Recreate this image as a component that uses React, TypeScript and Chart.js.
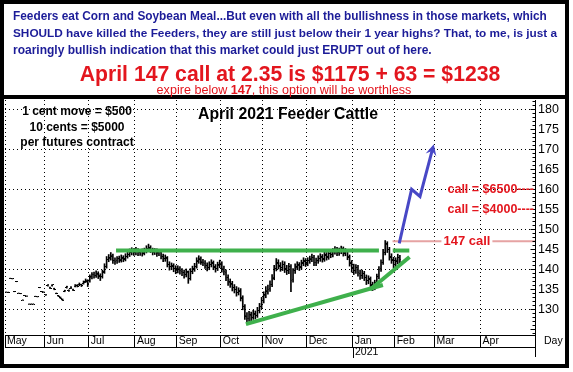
import React, { useEffect, useRef } from 'react';
import { Chart, registerables } from 'chart.js';

Chart.register(...registerables);

const FONT = "'Liberation Sans', Arial, Helvetica, sans-serif";

const headerLines = [
  'Feeders eat Corn and Soybean Meal...But even with all the bullishness in those markets, which',
  'SHOULD have killed the Feeders, they are still just below their 1 year highs? That, to me, is just a',
  'roaringly bullish indication that this market could just ERUPT out of here.',
];
const headline = 'April 147 call at 2.35 is $1175 + 63 = $1238';
const subParts = ['expire below ', '147', ', this option will be worthless'];
const chartTitle = 'April 2021 Feeder Cattle';
const noteLines = ['1 cent move = $500', '10 cents = $5000', 'per futures contract'];

// x axis: trading-day index; month boundaries
const monthStarts = [-0.5, 18.5, 39.5, 61.5, 81.5, 102.5, 122.5, 143.5, 165.5, 185.5, 204.5, 226.5];
const monthLabels = ['May', 'Jun', 'Jul', 'Aug', 'Sep', 'Oct', 'Nov', 'Dec', 'Jan', 'Feb', 'Mar', 'Apr'];
const yearMark = { x: 165.5, label: '2021' };
const axisEndLabel = 'Day';

const opens = [
  // May
  134.3, 134.2, 137.7, 137.6, 134.4, 136.9, 134.0, 133.9, 132.3, 133.4, 133.3, 131.3, 131.3, 131.3, 133.2, 133.1, 135.4, 134.4, 134.3,
  // Jun
  133.6, 135.9, 135.5, 135.9, 135.2, 134.0, 133.4, 133.0, 132.5, 134.5, 135.4, 134.8, 135.3, 135.0, 135.7, 136.0, 136.1, 136.1, 136.5, 136.9, 137.0,
  // Jul
  137.3, 138.1, 138.7, 138.5, 138.8, 138.4, 138.2, 139.4, 140.8, 142.5, 142.9, 143.3, 142.3, 142.1, 142.7, 142.4, 142.8, 142.6, 143.3, 143.7, 144.2, 144.5,
  // Aug
  144.3, 144.6, 144.2, 144.5, 144.1, 144.7, 145.1, 145.3, 144.7, 144.4, 144.5, 144.1, 144.2, 143.2, 142.7, 142.8, 141.2, 140.7, 140.8, 140.1,
  // Sep
  139.9, 140.0, 139.5, 139.2, 138.8, 139.2, 137.7, 139.4, 140.1, 140.7, 142.0, 142.5, 141.8, 141.5, 140.9, 140.5, 141.3, 141.5, 140.5, 140.3, 141.1,
  // Oct
  141.2, 140.0, 139.3, 137.9, 136.8, 136.3, 135.4, 134.9, 134.3, 134.5, 132.7, 130.6, 128.3, 127.7, 128.5, 128.0, 128.8, 128.5, 129.7, 130.8,
  // Nov
  132.2, 133.6, 134.5, 135.1, 136.3, 138.0, 140.3, 141.5, 140.8, 140.5, 141.1, 140.1, 139.7, 140.6, 137.4, 139.7, 140.5, 141.0, 140.6, 141.5, 142.0,
  // Dec
  141.6, 142.2, 142.5, 142.9, 141.7, 142.2, 142.7, 143.0, 142.6, 143.5, 143.1, 143.9, 143.7, 144.4, 144.9, 144.2, 144.5, 145.0, 144.1, 144.4, 143.0, 141.5,
  // Jan
  140.4, 139.7, 140.4, 139.0, 138.5, 138.9, 137.9, 137.2, 137.5, 136.0, 135.5, 136.7, 138.2, 140.1, 141.7, 144.2, 146.3, 144.9, 143.1, 142.3,
  // Feb
  141.3, 142.0, 142.9,
];
const highs = [
  134.4, 134.3, 137.8, 137.7, 134.5, 137.0, 134.1, 134.0, 132.4, 133.5, 133.4, 131.4, 131.4, 131.4, 133.3, 133.2, 135.5, 134.5, 134.4,
  133.7, 136.2, 135.6, 136.2, 135.3, 134.1, 133.5, 133.1, 132.6, 134.8, 135.8, 134.9, 135.7, 135.1, 136.2, 136.2, 136.6, 136.3, 137.1, 137.6, 137.4,
  138.6, 139.2, 139.3, 139.6, 139.4, 138.9, 139.8, 141.4, 143.2, 143.7, 144.2, 143.8, 142.9, 143.2, 143.3, 143.6, 143.4, 143.9, 144.4, 145.1, 145.4, 145.2,
  145.5, 145.2, 145.0, 145.1, 145.3, 145.9, 146.3, 145.9, 145.3, 145.2, 145.1, 145.0, 144.7, 143.8, 143.6, 143.2, 141.9, 141.6, 141.4, 140.9,
  140.9, 140.7, 140.2, 139.8, 140.1, 139.6, 140.2, 140.8, 141.5, 142.9, 143.4, 143.1, 142.5, 142.2, 141.6, 141.9, 142.4, 142.1, 141.2, 141.8, 142.3,
  141.9, 140.8, 139.9, 138.6, 137.6, 137.0, 136.2, 135.7, 135.4, 135.2, 133.4, 131.2, 129.2, 129.5, 129.3, 129.8, 129.6, 130.5, 131.5, 133.0,
  134.4, 135.7, 136.1, 137.1, 138.7, 141.0, 142.7, 142.4, 141.7, 142.1, 141.9, 141.0, 141.5, 141.2, 140.2, 141.4, 141.9, 141.7, 142.3, 142.9, 142.7,
  142.9, 143.3, 143.8, 143.5, 142.8, 143.4, 143.9, 143.7, 144.3, 144.2, 144.8, 144.6, 145.2, 145.7, 145.5, 145.3, 145.8, 145.6, 145.2, 145.0, 143.6, 142.2,
  141.3, 141.2, 141.0, 139.8, 139.8, 139.5, 138.6, 138.4, 138.1, 136.8, 137.3, 138.8, 140.7, 142.4, 145.0, 147.2, 146.9, 145.5, 143.9, 143.0,
  142.9, 143.8, 143.5,
];
const lows = [
  134.3, 134.2, 137.7, 137.6, 134.4, 136.9, 134.0, 133.9, 132.3, 133.4, 133.3, 131.3, 131.3, 131.3, 133.2, 133.1, 135.4, 134.4, 134.3,
  133.5, 135.8, 135.2, 135.8, 134.9, 133.9, 133.2, 132.7, 132.2, 134.4, 135.3, 134.5, 135.2, 134.7, 135.6, 135.6, 135.9, 135.7, 136.3, 136.7, 135.7,
  136.8, 137.6, 137.8, 138.0, 137.7, 137.2, 137.8, 139.0, 140.3, 141.9, 142.3, 141.5, 141.2, 141.5, 141.7, 141.8, 141.9, 142.1, 142.8, 143.2, 143.6, 143.5,
  143.6, 143.4, 143.5, 143.3, 143.6, 144.1, 144.5, 144.2, 143.6, 143.7, 143.2, 143.4, 142.6, 141.9, 142.0, 140.6, 139.8, 139.9, 139.4, 138.9,
  139.1, 138.8, 138.4, 137.8, 138.1, 136.5, 137.3, 138.9, 139.5, 140.3, 141.5, 141.2, 140.9, 140.2, 139.6, 139.9, 140.6, 139.9, 139.3, 139.7, 140.4,
  139.3, 138.6, 137.2, 136.0, 135.5, 134.6, 134.1, 133.3, 133.6, 132.1, 129.9, 127.5, 126.4, 127.0, 127.1, 127.5, 127.6, 128.0, 129.1, 130.2,
  131.6, 132.9, 133.8, 134.5, 135.7, 137.4, 139.6, 140.1, 139.5, 139.7, 139.2, 138.7, 138.9, 134.4, 136.8, 139.0, 139.9, 139.7, 140.0, 140.9, 140.7,
  140.9, 141.5, 141.9, 140.9, 140.9, 141.5, 142.0, 141.8, 142.0, 142.3, 142.5, 142.9, 143.1, 143.8, 143.4, 143.5, 143.9, 143.3, 143.4, 142.4, 140.8, 139.3,
  138.7, 139.0, 138.3, 137.5, 137.7, 137.2, 136.2, 136.4, 135.3, 134.7, 134.9, 136.1, 137.6, 139.5, 141.2, 143.6, 144.2, 142.3, 141.5, 140.4,
  140.6, 141.4, 141.6,
];
const closes = [
  134.3, 134.2, 137.7, 137.6, 134.4, 136.9, 134.0, 133.9, 132.3, 133.4, 133.3, 131.3, 131.3, 131.3, 133.2, 133.1, 135.4, 134.4, 134.3,
  133.6, 136.1, 135.3, 136.1, 135.0, 134.0, 133.3, 132.8, 132.3, 134.7, 135.6, 134.6, 135.5, 134.8, 136.0, 135.8, 136.3, 135.9, 136.8, 137.2, 136.4,
  138.0, 138.6, 138.4, 138.9, 138.3, 138.1, 139.2, 140.6, 142.4, 142.8, 143.5, 142.2, 142.0, 142.6, 142.3, 142.9, 142.5, 143.2, 143.6, 144.3, 144.6, 144.2,
  144.7, 144.1, 144.4, 144.0, 144.6, 145.2, 145.4, 144.8, 144.3, 144.6, 144.0, 144.4, 143.3, 142.6, 142.9, 141.3, 140.6, 140.9, 140.2, 139.8,
  140.1, 139.6, 139.3, 138.7, 139.4, 137.6, 139.5, 140.0, 140.6, 142.1, 142.6, 141.9, 141.6, 141.0, 140.4, 141.2, 141.6, 140.6, 140.2, 141.0, 141.4,
  140.1, 139.4, 138.0, 136.9, 136.4, 135.5, 135.0, 134.2, 134.6, 132.9, 130.8, 128.4, 127.6, 128.6, 127.9, 128.9, 128.4, 129.6, 130.7, 132.1,
  133.5, 134.6, 135.0, 136.2, 137.8, 140.2, 141.6, 140.9, 140.4, 141.2, 140.0, 139.6, 140.7, 137.2, 139.6, 140.6, 141.1, 140.5, 141.6, 142.1, 141.5,
  142.1, 142.6, 143.0, 141.6, 142.1, 142.6, 143.1, 142.5, 143.6, 143.0, 144.0, 143.6, 144.5, 145.0, 144.1, 144.6, 145.1, 144.0, 144.5, 143.1, 141.6, 140.2,
  139.6, 140.5, 139.1, 138.4, 139.0, 138.0, 137.1, 137.6, 136.1, 135.4, 136.6, 138.1, 140.0, 141.6, 144.1, 146.4, 145.0, 143.0, 142.4, 141.2,
  142.1, 143.0, 142.4,
];

// hand-drawn annotation lines (x = trading-day index, y = price)
const resistanceA = [{ x: 52.5, y: 144.7 }, { x: 178, y: 144.7 }];
const resistanceB = [{ x: 184.6, y: 144.7 }, { x: 192.5, y: 144.7 }];
const supportLine = [{ x: 114.5, y: 126.3 }, { x: 179.9, y: 136.1 }];
const steepLine = [{ x: 173.7, y: 134.9 }, { x: 192.6, y: 143.1 }];
const projection = [{ x: 187.7, y: 146.5 }, { x: 193.6, y: 160.0 }, { x: 197.6, y: 158.2 }, { x: 203.7, y: 170.3 }];
const strikeLine = [{ x: 184.5, y: 147 }, { x: 252.5, y: 147 }];
const strikeLabel = { x: 220, y: 147, text: '147 call' };
const callLevels = [{ y: 160, text: 'call = $6500----' }, { y: 155, text: 'call = $4000----' }];

const Y_MIN = 123.6;
const Y_MAX = 182.3;
const X_MIN = -0.5;
const X_MAX = 252.5;

const GREEN = '#3fb04c';
const BLUE = '#4848c6';
const RED = '#e3161e';
const NAVY = '#1c1c98';
const PINK = '#e6a3a3';

const annotate = {
  id: 'annotate',
  beforeDraw(chart: any) {
    const ctx = chart.ctx;
    ctx.save();
    ctx.fillStyle = '#fff';
    ctx.fillRect(0, 0, chart.width, chart.height);
    ctx.restore();
  },
  afterDraw(chart: any) {
    const { ctx, chartArea: ca } = chart;
    const xs = chart.scales.x;
    const ys = chart.scales.y;
    ctx.save();

    // frame + header divider
    ctx.strokeStyle = '#000';
    ctx.lineWidth = 4;
    ctx.strokeRect(2, 2, 565, 364);
    ctx.fillStyle = '#000';
    ctx.fillRect(2, 95, 565, 4);

    // header text
    ctx.textBaseline = 'middle';
    ctx.textAlign = 'left';
    ctx.fillStyle = NAVY;
    const hy = [17, 34, 51];
    const hs = [11.85, 11.8, 12];
    headerLines.forEach((t, i) => {
      ctx.font = `bold ${hs[i]}px ${FONT}`;
      ctx.fillText(t, 13, hy[i]);
    });

    ctx.fillStyle = RED;
    ctx.textAlign = 'center';
    ctx.font = `bold 21.2px ${FONT}`;
    ctx.fillText(headline, 290, 75);

    const fonts = [`12.6px ${FONT}`, `bold 12.6px ${FONT}`, `12.6px ${FONT}`];
    let total = 0;
    const widths = subParts.map((p, i) => { ctx.font = fonts[i]; const w = ctx.measureText(p).width; total += w; return w; });
    let sx = 284 - total / 2;
    ctx.textAlign = 'left';
    subParts.forEach((p, i) => { ctx.font = fonts[i]; ctx.fillText(p, sx, 91); sx += widths[i]; });

    // extra axis lines
    ctx.strokeStyle = '#000';
    ctx.lineWidth = 1;
    ctx.beginPath();
    ctx.moveTo(ca.left, 347.5);
    ctx.lineTo(ca.right, 347.5);
    const ax = Math.round(ca.right) + 0.5;
    ctx.moveTo(ax, ca.bottom);
    ctx.lineTo(ax, 357);
    const jx = Math.round(xs.getPixelForValue(yearMark.x)) + 0.5;
    ctx.moveTo(jx, 347);
    ctx.lineTo(jx, 358);
    ys.ticks.forEach((t: any) => {
      const py = Math.round(ys.getPixelForValue(t.value)) + 0.5;
      const len = t.value % 5 === 0 ? 5 : 3;
      ctx.moveTo(ax - len, py);
      ctx.lineTo(ax, py);
    });
    ctx.stroke();

    ctx.fillStyle = '#000';
    ctx.font = `10.5px ${FONT}`;
    ctx.textAlign = 'left';
    ctx.fillText(yearMark.label, jx + 1.5, 352.5);
    ctx.fillText(axisEndLabel, 544, 341);

    // title and notes
    ctx.font = `bold 15.8px ${FONT}`;
    ctx.textAlign = 'center';
    ctx.fillText(chartTitle, 288, 115);
    ctx.font = `bold 12px ${FONT}`;
    const ny = [112, 128, 143];
    noteLines.forEach((t, i) => ctx.fillText(t, 77, ny[i]));

    // strike label with white backing
    ctx.font = `bold 13px ${FONT}`;
    const sxp = xs.getPixelForValue(strikeLabel.x);
    const syp = ys.getPixelForValue(strikeLabel.y);
    const sw = ctx.measureText(strikeLabel.text).width;
    ctx.fillStyle = '#fff';
    ctx.fillRect(sxp - sw / 2 - 2, syp - 7, sw + 4, 14);
    ctx.fillStyle = RED;
    ctx.fillText(strikeLabel.text, sxp, syp);

    // call levels
    ctx.font = `bold 12.5px ${FONT}`;
    ctx.textAlign = 'right';
    callLevels.forEach((c) => ctx.fillText(c.text, ca.right - 1, ys.getPixelForValue(c.y)));

    // arrow head on projection
    const meta = chart.getDatasetMeta(0);
    const pts = meta.data;
    if (pts.length >= 2) {
      const a = pts[pts.length - 2];
      const b = pts[pts.length - 1];
      const dx = b.x - a.x;
      const dy = b.y - a.y;
      const L = Math.hypot(dx, dy) || 1;
      const ux = dx / L;
      const uy = dy / L;
      const tipX = b.x + ux * 4;
      const tipY = b.y + uy * 4;
      const bx = b.x - ux * 7;
      const by = b.y - uy * 7;
      ctx.fillStyle = BLUE;
      ctx.beginPath();
      ctx.moveTo(tipX, tipY);
      ctx.lineTo(bx - uy * 5.5, by + ux * 5.5);
      ctx.lineTo(b.x - ux * 3, b.y - uy * 3);
      ctx.lineTo(bx + uy * 5.5, by - ux * 5.5);
      ctx.closePath();
      ctx.fill();
    }
    ctx.restore();
  },
};

function tickImage(side: 'left' | 'right') {
  const c = document.createElement('canvas');
  c.width = 3;
  c.height = 1;
  const g = c.getContext('2d')!;
  g.fillStyle = '#000';
  g.fillRect(side === 'right' ? 2 : 0, 0, 1, 1);
  return c;
}

export default function App() {
  const ref = useRef<HTMLCanvasElement>(null);
  useEffect(() => {
    document.body.style.margin = '0';
    const canvas = ref.current!;
    const days = closes.map((_, i) => i);
    const lineDs = (data: any[], color: string, width: number, order: number) => ({
      type: 'line' as const,
      data,
      borderColor: color,
      borderWidth: width,
      pointRadius: 0,
      fill: false,
      tension: 0,
      order,
      borderCapStyle: 'butt' as const,
      borderJoinStyle: 'miter' as const,
    });
    const chart = new Chart(canvas, {
      type: 'bar',
      data: {
        datasets: [
          lineDs(projection, BLUE, 3, 1) as any,
          lineDs(resistanceA, GREEN, 4, 2) as any,
          lineDs(resistanceB, GREEN, 4, 2) as any,
          lineDs(supportLine, GREEN, 4, 2) as any,
          lineDs(steepLine, GREEN, 4, 2) as any,
          lineDs(strikeLine, PINK, 2, 3) as any,
          {
            type: 'line',
            data: days.map((i) => ({ x: i, y: closes[i] })),
            showLine: false,
            pointStyle: tickImage('right'),
            pointRadius: 1,
            order: 8,
          } as any,
          {
            type: 'line',
            data: days.map((i) => ({ x: i, y: opens[i] })),
            showLine: false,
            pointStyle: tickImage('left'),
            pointRadius: 1,
            order: 9,
          } as any,
          {
            type: 'bar',
            data: days.map((i) => ({ x: i, y: [lows[i], highs[i]] })),
            backgroundColor: '#000',
            borderWidth: 0,
            barThickness: 1,
            grouped: false,
            order: 10,
          } as any,
        ],
      },
      options: {
        responsive: false,
        devicePixelRatio: 1,
        animation: false,
        events: [],
        layout: { padding: { left: 5, top: 100, right: 0, bottom: 0 } },
        plugins: { legend: { display: false }, tooltip: { enabled: false } },
        scales: {
          x: {
            type: 'linear',
            position: 'bottom',
            min: X_MIN,
            max: X_MAX,
            bounds: 'data',
            offset: false,
            afterBuildTicks: (axis: any) => {
              axis.ticks = monthStarts.map((v) => ({ value: v }));
            },
            afterFit: (axis: any) => {
              axis.height = 37;
            },
            ticks: {
              autoSkip: false,
              maxRotation: 0,
              minRotation: 0,
              align: 'start',
              labelOffset: 2,
              padding: -12.5,
              color: '#000',
              font: { family: FONT, size: 10.5 },
              callback: (_v: any, i: number) => monthLabels[i],
            },
            grid: {
              offset: false,
              color: '#000',
              lineWidth: 1,
              drawOnChartArea: true,
              drawTicks: true,
              tickLength: 12,
              tickColor: '#000',
              tickBorderDash: [],
            },
            border: { display: true, color: '#000', width: 1, dash: [1, 3] },
          } as any,
          y: {
            type: 'linear',
            position: 'right',
            min: Y_MIN,
            max: Y_MAX,
            beginAtZero: false,
            afterFit: (axis: any) => {
              axis.width = 38;
            },
            ticks: {
              stepSize: 1,
              autoSkip: false,
              includeBounds: false,
              padding: 3,
              color: '#000',
              font: { family: FONT, size: 12.5 },
              callback: (v: any) => (v % 5 === 0 && v >= 130 ? String(v) : ''),
            },
            grid: {
              drawTicks: false,
              lineWidth: 1,
              color: (c: any) => (c.tick && c.tick.value % 10 === 0 ? '#000' : 'rgba(0,0,0,0)'),
            },
            border: { display: true, color: '#000', width: 1, dash: [1, 3] },
          } as any,
        },
      },
      plugins: [annotate],
    });
    return () => chart.destroy();
  }, []);
  return <canvas ref={ref} width={573} height={372} style={{ display: 'block', width: 573, height: 372 }} />;
}
